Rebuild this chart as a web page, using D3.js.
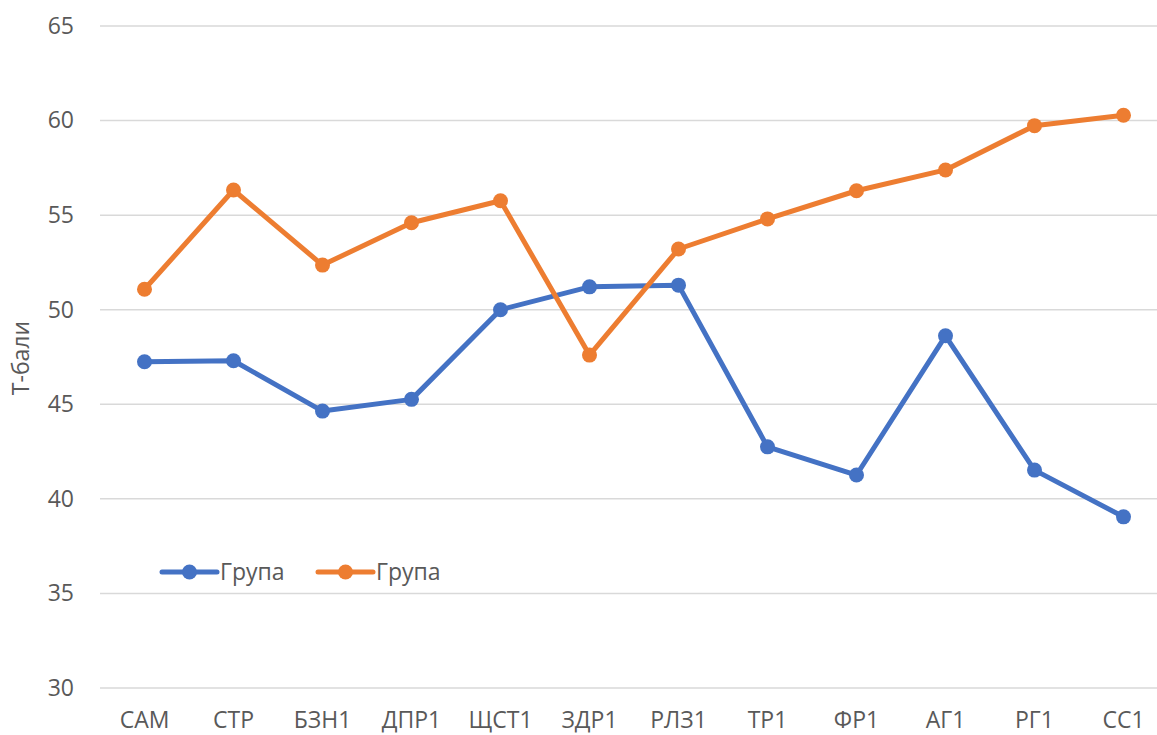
<!DOCTYPE html>
<html>
<head>
<meta charset="utf-8">
<script src="https://cdn.jsdelivr.net/npm/d3@7"></script>
<style>
  html, body { margin: 0; padding: 0; background: #fff; }
  svg { display: block; font-family: "Open Sans", "Noto Sans", sans-serif; }
</style>
</head>
<body>
<svg id="chart" width="1157" height="735"></svg>
<script>
// Scale categories
const categories = ["САМ", "СТР", "БЗН1", "ДПР1", "ЩСТ1", "ЗДР1", "РЛЗ1", "ТР1", "ФР1", "АГ1", "РГ1", "СС1"];
// T-scores per group
const groupA = [47.25, 47.3, 44.64, 45.26, 50.0, 51.21, 51.3, 42.75, 41.26, 48.62, 41.52, 39.05];
const groupB = [51.08, 56.33, 52.36, 54.6, 55.76, 47.6, 53.21, 54.8, 56.29, 57.39, 59.73, 60.28];
const seriesNames = ["Група", "Група"];
const yTicks = [30, 35, 40, 45, 50, 55, 60, 65];
const yTitle = "Т-бали";

const colors = ["#4472C4", "#ED7D31"];
const svg = d3.select("#chart");
const plot = { left: 100, right: 1168, top: 26, bottom: 688 };
const fontSize = 23;

const x = d3.scaleBand().domain(categories).range([plot.left, plot.right]);
const y = d3.scaleLinear().domain([30, 65]).range([plot.bottom, plot.top]);

// Horizontal gridlines
svg.append("g")
  .selectAll("line")
  .data(yTicks)
  .join("line")
  .attr("x1", plot.left).attr("x2", plot.right)
  .attr("y1", d => y(d)).attr("y2", d => y(d))
  .attr("stroke", "#d9d9d9").attr("stroke-width", 1.5);

// Y axis tick labels
const yAxis = d3.axisLeft(y).tickValues(yTicks).tickSize(0).tickPadding(0);
svg.append("g")
  .attr("transform", `translate(74,0)`)
  .call(yAxis)
  .call(g => g.select(".domain").remove())
  .selectAll("text")
  .attr("font-size", fontSize)
  .attr("font-family", "'Open Sans', sans-serif")
  .attr("fill", "#595959");

// X axis category labels
const xAxis = d3.axisBottom(x).tickSize(0).tickPadding(0);
svg.append("g")
  .attr("transform", `translate(0,${plot.bottom})`)
  .call(xAxis)
  .call(g => g.select(".domain").remove())
  .selectAll("text")
  .attr("dy", 0)
  .attr("y", 40)
  .attr("font-size", fontSize)
  .attr("font-family", "'Open Sans', sans-serif")
  .attr("fill", "#595959");

// Y axis title
svg.append("text")
  .attr("transform", `translate(29,${(plot.top + plot.bottom) / 2 + 1}) rotate(-90)`)
  .attr("text-anchor", "middle")
  .attr("font-size", fontSize)
  .attr("fill", "#595959")
  .text(yTitle);

const cx = c => x(c) + x.bandwidth() / 2;
const line = d3.line().x((d, i) => cx(categories[i])).y(d => y(d));

[groupA, groupB].forEach((vals, k) => {
  const g = svg.append("g");
  g.append("path")
    .datum(vals)
    .attr("d", line)
    .attr("fill", "none")
    .attr("stroke", colors[k])
    .attr("stroke-width", 5)
    .attr("stroke-linejoin", "round")
    .attr("stroke-linecap", "round");
  g.selectAll("circle")
    .data(vals)
    .join("circle")
    .attr("cx", (d, i) => cx(categories[i]))
    .attr("cy", d => y(d))
    .attr("r", 7.5)
    .attr("fill", colors[k]);
});

// Legend
const legendItems = [
  { name: seriesNames[0], color: colors[0], x: 162 },
  { name: seriesNames[1], color: colors[1], x: 318 }
];
const legendY = 572;
const lg = svg.append("g");
legendItems.forEach(it => {
  lg.append("line")
    .attr("x1", it.x).attr("x2", it.x + 55)
    .attr("y1", legendY).attr("y2", legendY)
    .attr("stroke", it.color).attr("stroke-width", 5).attr("stroke-linecap", "round");
  lg.append("circle")
    .attr("cx", it.x + 27.5).attr("cy", legendY).attr("r", 7.5)
    .attr("fill", it.color);
  lg.append("text")
    .attr("x", it.x + 58).attr("y", legendY)
    .attr("dy", "0.35em")
    .attr("font-size", fontSize)
    .attr("fill", "#595959")
    .text(it.name);
});
</script>
</body>
</html>
